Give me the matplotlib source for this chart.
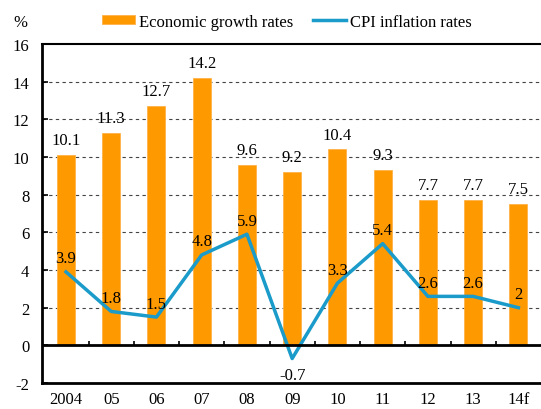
import numpy as np
import matplotlib.pyplot as plt

plt.rcParams['font.family'] = ['Liberation Serif', 'DejaVu Serif']
plt.rcParams['axes.unicode_minus'] = False

years = ["2004", "05", "06", "07", "08", "09", "10", "11", "12", "13", "14f"]
growth = [10.1, 11.3, 12.7, 14.2, 9.6, 9.2, 10.4, 9.3, 7.7, 7.7, 7.5]
cpi = [3.9, 1.8, 1.5, 4.8, 5.9, -0.7, 3.3, 5.4, 2.6, 2.6, 2]

orange = '#FF9900'
blue = '#1A9BC9'

fig = plt.figure(figsize=(5.41, 4.10), dpi=100)
ax = fig.add_axes([0.0776, 0.0634, 0.9224, 0.8268])

x = np.arange(len(years))
bars = ax.bar(x, growth, width=0.4, color=orange, edgecolor='#FFB347', linewidth=0.6,
              label='Economic growth rates', zorder=2)
line, = ax.plot(x, cpi, color=blue, linewidth=2.5, label='CPI inflation rates', zorder=3)

for xi, v in zip(x, growth):
    ax.annotate(f'{v:g}', (xi, v), xytext=(0, 5), textcoords='offset points',
                ha='center', va='bottom', fontsize=12)
for xi, v in zip(x, cpi):
    if v < 0:
        ax.annotate(f'{v:g}', (xi, v), xytext=(0, -6), textcoords='offset points',
                    ha='center', va='top', fontsize=12)
    else:
        ax.annotate(f'{v:g}', (xi, v), xytext=(0, 4), textcoords='offset points',
                    ha='center', va='bottom', fontsize=12)

ax.set_xlim(-0.53, len(years) - 0.5)
ax.set_ylim(-2, 16)
ax.set_yticks(np.arange(-2, 17, 2))
ax.set_xticks(x)
ax.set_xticklabels(years)
ax.tick_params(axis='x', length=0, pad=6, labelsize=12)
ax.tick_params(axis='y', direction='in', length=4, width=1.2, pad=9, labelsize=12)

# dashed gridlines
for yv in np.arange(2, 16, 2):
    ax.axhline(yv, color='#444444', linestyle=(0, (3, 3)), linewidth=0.8, zorder=1)

# zero line with category separators
ax.axhline(0, color='black', linewidth=2, zorder=4)
ax.vlines(x[:-1] + 0.5, 0, 0.22, color='black', linewidth=1.2, zorder=4)

for side in ['left', 'bottom']:
    ax.spines[side].set_linewidth(2)
ax.spines['top'].set_linewidth(1.5)
ax.spines['right'].set_visible(False)

fig.text(0.037, 0.945, '%', fontsize=12, ha='center', va='center')
fig.legend(handles=[bars, line], loc='center', bbox_to_anchor=(0.53, 0.945),
           ncol=2, frameon=False, fontsize=12, handlelength=2.0, handleheight=0.5,
           handletextpad=0.2, columnspacing=1.2, borderaxespad=0)

fig.savefig('out.png', dpi=100)
